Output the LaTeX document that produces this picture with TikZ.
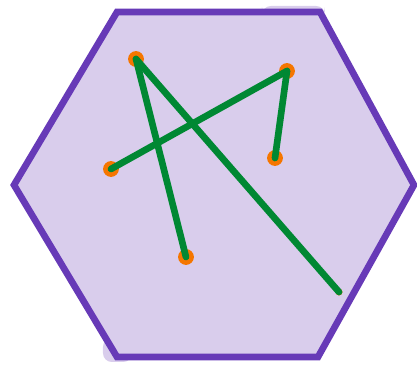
\documentclass[tikz,border=0pt]{standalone}
\usepackage{tikz}
\usetikzlibrary{calc}
\definecolor{hexline}{RGB}{103,58,183}
\definecolor{hexfill}{RGB}{217,205,236}
\definecolor{segline}{RGB}{0,136,51}
\definecolor{dotfill}{RGB}{245,118,0}
\tikzset{
  hexagon/.style={
    draw=hexline, fill=hexfill, line width=3.8pt, line join=miter,
  },
  smudge/.style={
    fill=hexfill, draw=none, rounded corners=5pt,
  },
  seg/.style={
    draw=segline, line width=3.8pt, line cap=round,
  },
  pt/.style={
    circle, fill=dotfill, draw=none, minimum size=9pt, inner sep=0pt,
  },
  ptsmall/.style={
    circle, fill=dotfill, draw=none, minimum size=4pt, inner sep=0pt,
  }
}
\begin{document}
\begin{tikzpicture}[x=0.02cm, y=-0.02cm]

  \useasboundingbox (0,0) rectangle (417,365);

  % loose fill around the outline
  \fill[smudge] (262,6) rectangle (325,16);
  \fill[smudge] (103,338) rectangle (132,362);

  \draw[hexagon] (117,12) -- (320,12) -- (414,185) -- (318,357)
    -- (117,357) -- (14,185) -- cycle;

  \node[pt] (a) at (136,59) {};
  \node[pt] (b) at (287,71) {};
  \node[pt] (c) at (111,169) {};
  \node[pt] (d) at (275,158) {};
  \node[pt] (e) at (186,257) {};
  \node[ptsmall] (f) at (339,292) {};

  \draw[seg] (a.center) -- (e.center);
  \draw[seg] (a.center) -- (f.center);
  \draw[seg] (b.center) -- (c.center);
  \draw[seg] (b.center) -- (d.center);

\end{tikzpicture}
\end{document}
